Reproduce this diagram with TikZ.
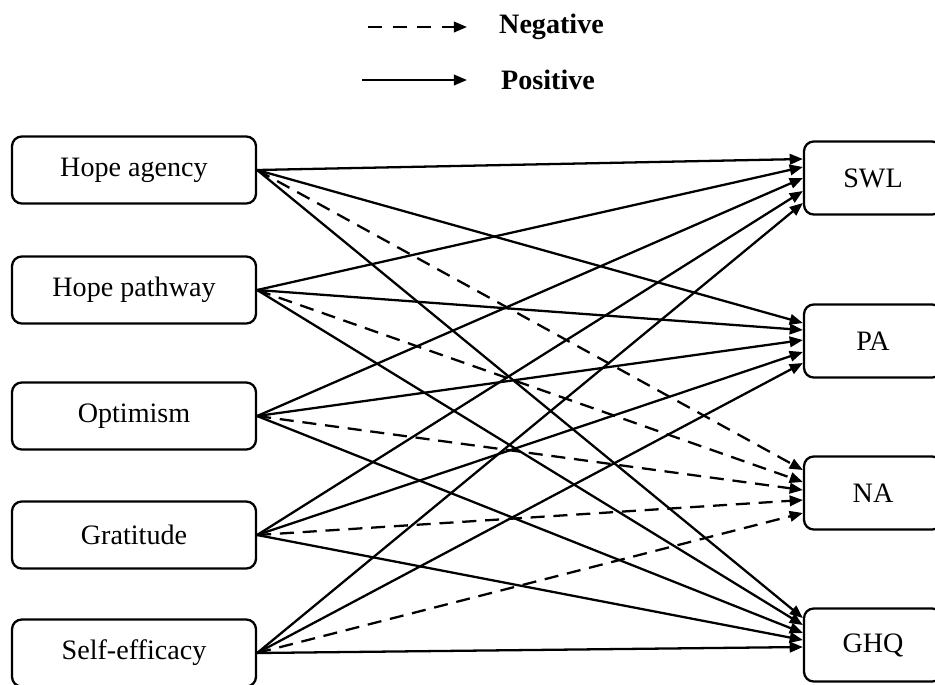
\documentclass[tikz,border=0pt]{standalone}
\usepackage{fontspec}
\setmainfont{Liberation Serif}
\usetikzlibrary{arrows.meta, calc}

\begin{document}
\begin{tikzpicture}[x=0.02cm, y=-0.02cm, font=\fontsize{16}{19}\selectfont,
    box/.style={rectangle, rounded corners=5.5pt, draw, line width=1.3pt, minimum width=4.88cm, minimum height=1.34cm},
    outbox/.style={box, minimum width=2.76cm, minimum height=1.46cm},
    posarrow/.style={-{Triangle[length=7.5pt, width=6pt]}, line width=1.3pt},
    negarrow/.style={posarrow, dash pattern=on 8pt off 5pt}]
    \useasboundingbox (0,0) rectangle (935,684);

    % legend
    \coordinate (nega) at (368,27);
    \coordinate (negb) at (467,27);
    \coordinate (posa) at (362,80);
    \coordinate (posb) at (467,80);
    \draw[negarrow, dash pattern=on 8pt off 6pt] (nega) -- (negb);
    \draw[posarrow] (posa) -- (posb);
    \node[anchor=west, font=\fontsize{16}{19}\selectfont\bfseries] (negtxt) at (493,27) {Negative};
    \node[anchor=west, font=\fontsize{16}{19}\selectfont\bfseries] (postxt) at (495,80) {Positive};

    % predictors
    \node[box] (ha) at (134,170) {Hope agency};
    \node[box] (hp) at (134,290) {Hope pathway};
    \node[box] (opt) at (134,416) {Optimism};
    \node[box] (grat) at (134,535) {Gratitude};
    \node[box] (se) at (134,653) {Self-efficacy};

    % outcomes
    \node[outbox] (swl) at (873,178) {SWL};
    \node[outbox] (pa) at (873,341) {PA};
    \node[outbox] (na) at (873,493) {NA};
    \node[outbox] (ghq) at (873,645) {GHQ};

    % SWL
    \draw[posarrow] (ha.east) -- ($(swl.west)+(0,-19)$);
    \draw[posarrow] (hp.east) -- ($(swl.west)+(0,-11)$);
    \draw[posarrow] (opt.east) -- ($(swl.west)+(0,0)$);
    \draw[posarrow] (grat.east) -- ($(swl.west)+(0,13)$);
    \draw[posarrow] (se.east) -- ($(swl.west)+(0,25)$);
    % PA
    \draw[posarrow] (ha.east) -- ($(pa.west)+(0,-18)$);
    \draw[posarrow] (hp.east) -- ($(pa.west)+(0,-11)$);
    \draw[posarrow] (opt.east) -- ($(pa.west)+(0,-1)$);
    \draw[posarrow] (grat.east) -- ($(pa.west)+(0,11)$);
    \draw[posarrow] (se.east) -- ($(pa.west)+(0,22)$);
    % NA
    \draw[negarrow] (ha.east) -- ($(na.west)+(0,-23)$);
    \draw[negarrow] (hp.east) -- ($(na.west)+(0,-11)$);
    \draw[negarrow] (opt.east) -- ($(na.west)+(0,-3)$);
    \draw[negarrow] (grat.east) -- ($(na.west)+(0,7)$);
    \draw[negarrow] (se.east) -- ($(na.west)+(0,20)$);
    % GHQ
    \draw[posarrow] (ha.east) -- ($(ghq.west)+(0,-27)$);
    \draw[posarrow] (hp.east) -- ($(ghq.west)+(0,-20)$);
    \draw[posarrow] (opt.east) -- ($(ghq.west)+(0,-12)$);
    \draw[posarrow] (grat.east) -- ($(ghq.west)+(0,-5)$);
    \draw[posarrow] (se.east) -- ($(ghq.west)+(0,2)$);
\end{tikzpicture}
\end{document}
